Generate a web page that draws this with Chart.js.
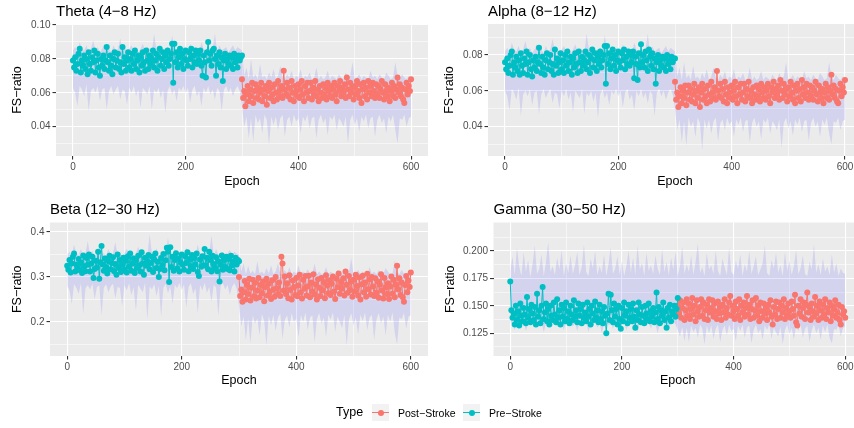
<!DOCTYPE html>
<html>
<head>
<meta charset="utf-8">
<title>FS-ratio per band</title>
<script src="https://cdn.jsdelivr.net/npm/chart.js@4.4.1/dist/chart.umd.min.js"></script>
<style>
    html, body { margin: 0; padding: 0; background: #fff; }
    body { width: 854px; height: 428px; overflow: hidden; position: relative; font-family: 'Liberation Sans', Arial, sans-serif; }
    canvas { position: absolute; }
    .legend-txt { position: absolute; white-space: nowrap; color: #000; }
    .key { position: absolute; width: 17px; height: 17px; background: #F2F2F2; }
    .key .ln { position: absolute; left: 0; right: 0; top: 8px; height: 1px; }
    .key .pt { position: absolute; left: 5.5px; top: 5.5px; width: 6px; height: 6px; border-radius: 50%; }
</style>
</head>
<body>
<canvas id="theta" width="432" height="200" style="left:0; top:0;"></canvas>
<canvas id="alpha" width="436" height="200" style="left:430px; top:0;"></canvas>
<canvas id="beta" width="432" height="205" style="left:0; top:195px;"></canvas>
<canvas id="gamma" width="436" height="205" style="left:430px; top:195px;"></canvas>

<div class="legend-txt" style="left:336px; top:405px; font-size:12.5px; line-height:15px;">Type</div>
<div class="key" style="left:372px; top:404px;"><div class="ln" id="k1l"></div><div class="pt" id="k1p"></div></div>
<div class="legend-txt" style="left:398px; top:406.5px; font-size:10.5px; line-height:12px;">Post−Stroke</div>
<div class="key" style="left:463px; top:404px;"><div class="ln" id="k2l"></div><div class="pt" id="k2p"></div></div>
<div class="legend-txt" style="left:489px; top:406.5px; font-size:10.5px; line-height:12px;">Pre−Stroke</div>

<script>
const POST_COLOR = '#F8766D';
const PRE_COLOR = '#00BFC4';
const BAND_COLOR = 'rgba(0, 0, 255, 0.1)';

// series read every 2nd epoch, the ribbon every 4th
const EPOCH_STEP = 2;
const BAND_STEP = 4;
const PRE_START = 0;
const POST_START = 300;

const epochTicks = [0, 200, 400, 600];
const epochLabels = ['0', '200', '400', '600'];

// Theta (4-8 Hz)
const thetaTicks = [0.04, 0.06, 0.08, 0.10];
const thetaLabels = ['0.04', '0.06', '0.08', '0.10'];
const thetaPre = [
    .079, .075, .081, .073, .077, .083, .086, .072, .079, .076,
    .082, .074, .080, .071, .084, .077, .073, .081, .078, .085,
    .072, .079, .083, .075, .070, .080, .076, .082, .074, .079,
    .087, .078, .073, .082, .076, .071, .080, .084, .075, .079,
    .083, .074, .078, .072, .087, .077, .081, .073, .079, .084,
    .075, .080, .073, .083, .077, .085, .074, .079, .082, .072,
    .081, .076, .084, .078, .073, .085, .079, .074, .082, .077,
    .080, .085, .075, .079, .083, .073, .081, .086, .076, .080,
    .084, .074, .082, .078, .085, .076, .080, .083, .089, .066,
    .089, .078, .084, .075, .081, .086, .077, .083, .074, .080,
    .085, .079, .076, .084, .080, .086, .075, .082, .078, .085,
    .077, .083, .079, .085, .076, .070, .082, .078, .069, .084,
    .090, .079, .083, .076, .085, .086, .080, .070, .082, .077,
    .084, .075, .081, .067, .079, .083, .074, .080, .077, .082,
    .076, .081, .074, .083, .078, .080, .075, .082, .079, .081,
    .082
];
const thetaPost = [
    .068, .057, .061, .052, .059, .064, .055, .062, .058, .066,
    .054, .061, .065, .057, .063, .056, .060, .066, .055, .062,
    .058, .064, .053, .061, .066, .057, .063, .059, .055, .065,
    .060, .056, .067, .061, .058, .064, .057, .073, .062, .059,
    .066, .058, .063, .056, .067, .060, .055, .064, .061, .058,
    .065, .057, .062, .067, .059, .055, .064, .060, .066, .057,
    .061, .066, .056, .063, .059, .067, .058, .062, .055, .064,
    .060, .057, .065, .059, .063, .056, .066, .061, .058, .064,
    .057, .062, .066, .059, .055, .064, .061, .067, .058, .063,
    .060, .065, .057, .069, .062, .058, .066, .060, .063, .056,
    .064, .059, .067, .061, .057, .065, .054, .062, .066, .058,
    .063, .056, .067, .060, .064, .058, .066, .061, .057, .065,
    .059, .064, .057, .062, .067, .060, .056, .065, .061, .058,
    .063, .055, .061, .066, .058, .064, .057, .062, .069, .060,
    .065, .058, .063, .056, .054, .062, .066, .059, .064, .061,
    .068
];
const thetaLow = [
    .063, .060, .052, .064, .062, .058, .065, .049, .061, .063,
    .060, .064, .055, .062, .063, .050, .061, .064, .059, .062,
    .064, .056, .062, .061, .053, .063, .060, .064, .058, .062,
    .051, .063, .061, .059, .064, .050, .062, .060, .063, .057,
    .062, .048, .061, .064, .059, .062, .055, .063, .061, .064,
    .060, .063, .054, .062, .064, .058, .061, .052, .063, .060,
    .064, .059, .062, .056, .063, .061, .049, .062, .064, .060,
    .063, .058, .062, .064, .061, .052, .040, .046, .033, .045,
    .031, .047, .042, .045, .036, .047, .044, .029, .046, .041,
    .046, .038, .045, .047, .034, .044, .046, .040, .047, .043,
    .045, .036, .046, .043, .047, .039, .045, .046, .033, .044,
    .047, .042, .045, .035, .046, .044, .047, .038, .045, .043,
    .040, .046, .030, .044, .047, .041, .045, .037, .046, .043,
    .047, .039, .045, .046, .034, .044, .047, .042, .045, .036,
    .046, .043, .047, .038, .030, .045, .044, .047, .040, .045,
    .046
];
const thetaHigh = [
    .085, .087, .084, .090, .086, .085, .088, .084, .086, .091,
    .085, .087, .084, .086, .089, .085, .086, .084, .088, .085,
    .086, .092, .085, .087, .084, .086, .088, .085, .087, .084,
    .086, .089, .085, .087, .086, .084, .095, .086, .085, .088,
    .084, .086, .087, .085, .094, .086, .084, .088, .085, .087,
    .086, .084, .089, .085, .087, .086, .084, .090, .086, .085,
    .087, .085, .086, .095, .084, .088, .085, .086, .087, .084,
    .086, .088, .085, .087, .086, .085, .070, .075, .068, .080,
    .069, .071, .068, .077, .069, .070, .068, .072, .069, .074,
    .068, .070, .076, .069, .068, .071, .069, .073, .068, .070,
    .069, .074, .068, .070, .069, .072, .068, .069, .075, .068,
    .070, .068, .069, .073, .068, .070, .069, .068, .071, .069,
    .068, .072, .069, .070, .078, .068, .069, .071, .068, .070,
    .069, .068, .073, .069, .070, .068, .071, .069, .068, .072,
    .070, .068, .069, .078, .070, .068, .071, .069, .068, .070,
    .069
];

// Alpha (8-12 Hz)
const alphaTicks = [0.04, 0.06, 0.08];
const alphaLabels = ['0.04', '0.06', '0.08'];
const alphaPre = [
    .076, .072, .078, .070, .074, .080, .082, .069, .076, .073,
    .079, .071, .077, .069, .081, .074, .070, .078, .075, .082,
    .069, .076, .080, .072, .068, .077, .073, .079, .071, .076,
    .084, .075, .070, .079, .073, .069, .077, .081, .072, .076,
    .080, .071, .075, .069, .083, .074, .078, .070, .076, .081,
    .072, .077, .070, .080, .074, .082, .071, .076, .079, .069,
    .078, .073, .081, .075, .070, .082, .076, .071, .079, .074,
    .077, .082, .072, .076, .080, .070, .078, .083, .073, .077,
    .081, .071, .079, .075, .082, .073, .077, .080, .085, .064,
    .085, .075, .081, .072, .078, .083, .074, .080, .071, .077,
    .082, .076, .073, .081, .077, .083, .072, .079, .075, .082,
    .074, .080, .076, .082, .067, .079, .075, .066, .081, .073,
    .086, .076, .080, .073, .082, .077, .071, .083, .079, .074,
    .081, .072, .078, .064, .076, .080, .071, .077, .074, .079,
    .073, .078, .071, .080, .075, .077, .072, .079, .076, .078,
    .078
];
const alphaPost = [
    .065, .055, .059, .051, .057, .062, .053, .060, .056, .063,
    .052, .059, .063, .055, .061, .054, .058, .064, .053, .060,
    .056, .062, .051, .059, .064, .055, .061, .057, .053, .063,
    .058, .054, .065, .059, .056, .062, .055, .071, .060, .057,
    .064, .056, .061, .054, .065, .058, .053, .062, .059, .056,
    .063, .055, .060, .065, .057, .053, .062, .058, .064, .055,
    .059, .064, .054, .061, .057, .065, .056, .060, .053, .062,
    .058, .055, .063, .057, .061, .054, .064, .059, .056, .062,
    .055, .060, .064, .057, .053, .062, .059, .065, .056, .061,
    .058, .063, .055, .066, .060, .056, .064, .058, .061, .054,
    .062, .057, .065, .059, .055, .063, .053, .060, .064, .056,
    .061, .054, .066, .058, .062, .056, .064, .059, .055, .063,
    .057, .062, .055, .060, .065, .058, .054, .063, .059, .056,
    .061, .053, .059, .064, .056, .062, .055, .060, .069, .058,
    .063, .056, .061, .054, .053, .060, .064, .057, .062, .059,
    .066
];
const alphaLow = [
    .060, .057, .049, .061, .059, .055, .062, .046, .058, .060,
    .057, .061, .052, .059, .060, .047, .058, .061, .056, .059,
    .061, .053, .059, .058, .050, .060, .057, .061, .055, .059,
    .048, .060, .058, .056, .061, .047, .059, .057, .060, .054,
    .059, .045, .058, .061, .056, .059, .052, .060, .058, .061,
    .057, .060, .051, .059, .061, .055, .058, .049, .060, .057,
    .061, .056, .059, .053, .060, .058, .046, .059, .061, .057,
    .060, .055, .059, .061, .058, .050, .038, .044, .031, .043,
    .029, .045, .040, .043, .034, .045, .042, .027, .044, .039,
    .044, .036, .043, .045, .032, .042, .044, .038, .045, .041,
    .043, .034, .044, .041, .045, .037, .043, .044, .031, .042,
    .045, .040, .043, .033, .044, .042, .045, .036, .043, .041,
    .038, .044, .028, .042, .045, .039, .043, .035, .044, .041,
    .045, .037, .043, .044, .032, .042, .045, .040, .043, .034,
    .044, .041, .045, .036, .030, .043, .042, .045, .038, .043,
    .044
];
const alphaHigh = [
    .082, .084, .081, .087, .083, .082, .085, .081, .083, .088,
    .082, .084, .081, .083, .086, .082, .083, .081, .085, .082,
    .083, .089, .082, .084, .081, .083, .085, .082, .084, .081,
    .083, .086, .082, .084, .083, .081, .092, .083, .082, .085,
    .081, .083, .084, .082, .091, .083, .081, .085, .082, .084,
    .083, .081, .086, .082, .084, .083, .081, .087, .083, .082,
    .084, .082, .083, .092, .081, .085, .082, .083, .084, .081,
    .083, .085, .082, .084, .083, .082, .068, .073, .066, .076,
    .067, .069, .066, .074, .067, .068, .066, .070, .067, .072,
    .066, .068, .073, .067, .066, .069, .067, .071, .066, .068,
    .067, .072, .066, .068, .067, .070, .066, .067, .073, .066,
    .068, .066, .067, .071, .066, .068, .067, .066, .069, .067,
    .066, .070, .067, .068, .076, .066, .067, .069, .066, .068,
    .067, .066, .071, .067, .068, .066, .069, .067, .066, .070,
    .068, .066, .067, .076, .068, .066, .069, .067, .066, .068,
    .067
];

// Beta (12-30 Hz)
const betaTicks = [0.2, 0.3, 0.4];
const betaLabels = ['0.2', '0.3', '0.4'];
const betaPre = [
    .325, .316, .338, .310, .330, .345, .352, .312, .328, .320,
    .340, .315, .332, .309, .348, .324, .313, .342, .327, .350,
    .312, .330, .345, .298, .318, .336, .321, .356, .296, .333,
    .369, .328, .314, .341, .322, .308, .335, .347, .317, .331,
    .344, .313, .329, .305, .350, .320, .338, .311, .327, .343,
    .316, .336, .310, .346, .323, .352, .314, .330, .341, .309,
    .338, .320, .347, .326, .312, .355, .330, .305, .343, .325,
    .335, .349, .317, .331, .345, .311, .339, .352, .320, .334,
    .300, .318, .342, .326, .351, .315, .337, .365, .356, .289,
    .366, .322, .345, .314, .338, .353, .319, .341, .312, .333,
    .350, .327, .316, .346, .331, .355, .313, .340, .324, .349,
    .318, .342, .328, .352, .311, .302, .339, .323, .346, .326,
    .362, .325, .343, .317, .356, .338, .312, .347, .329, .320,
    .344, .313, .335, .290, .327, .348, .316, .338, .322, .345,
    .318, .340, .315, .347, .326, .334, .312, .343, .328, .338,
    .335
];
const betaPost = [
    .300, .258, .272, .245, .266, .291, .250, .283, .262, .296,
    .248, .276, .294, .257, .287, .252, .270, .298, .255, .282,
    .264, .290, .246, .278, .296, .259, .285, .268, .251, .293,
    .272, .256, .300, .275, .262, .288, .258, .345, .330, .270,
    .301, .262, .286, .253, .304, .271, .250, .292, .278, .260,
    .298, .257, .281, .305, .266, .252, .294, .274, .302, .259,
    .279, .303, .255, .288, .268, .306, .261, .284, .250, .295,
    .276, .258, .298, .270, .289, .253, .304, .281, .264, .293,
    .260, .285, .301, .268, .251, .296, .277, .308, .263, .289,
    .274, .297, .259, .312, .283, .265, .302, .271, .290, .256,
    .294, .268, .305, .280, .259, .299, .250, .284, .303, .266,
    .288, .256, .307, .273, .295, .261, .300, .279, .258, .297,
    .265, .290, .254, .283, .306, .270, .252, .298, .277, .262,
    .286, .251, .279, .301, .263, .294, .255, .283, .325, .272,
    .297, .260, .288, .255, .245, .282, .302, .266, .292, .278,
    .310
];
const betaLow = [
    .280, .270, .240, .284, .276, .262, .286, .218, .275, .282,
    .272, .285, .250, .278, .281, .215, .276, .284, .266, .279,
    .285, .252, .278, .276, .235, .282, .270, .286, .260, .277,
    .225, .283, .274, .266, .287, .205, .279, .272, .284, .258,
    .280, .212, .276, .285, .264, .279, .240, .283, .275, .287,
    .271, .284, .232, .278, .286, .262, .275, .220, .282, .270,
    .287, .265, .278, .245, .283, .276, .214, .280, .286, .272,
    .283, .260, .279, .286, .274, .235, .190, .212, .160, .208,
    .152, .215, .196, .208, .170, .218, .202, .148, .214, .192,
    .216, .180, .210, .219, .162, .205, .215, .188, .220, .200,
    .208, .165, .216, .200, .221, .182, .210, .215, .155, .206,
    .220, .196, .210, .166, .216, .205, .221, .178, .212, .200,
    .186, .216, .148, .205, .220, .192, .210, .172, .216, .202,
    .221, .182, .210, .216, .160, .205, .220, .196, .212, .170,
    .216, .200, .221, .176, .150, .210, .206, .220, .185, .212,
    .215
];
const betaHigh = [
    .350, .356, .348, .372, .352, .350, .362, .347, .353, .380,
    .349, .358, .347, .352, .366, .349, .353, .348, .362, .350,
    .352, .378, .349, .356, .347, .352, .363, .350, .357, .348,
    .352, .368, .349, .357, .352, .347, .395, .352, .350, .364,
    .347, .353, .357, .350, .388, .352, .347, .362, .350, .356,
    .352, .347, .366, .350, .357, .352, .347, .372, .353, .350,
    .356, .350, .353, .392, .347, .362, .350, .353, .356, .348,
    .353, .360, .350, .356, .352, .350, .312, .330, .306, .325,
    .308, .314, .306, .335, .308, .312, .306, .320, .308, .326,
    .306, .312, .330, .308, .306, .316, .308, .322, .306, .312,
    .308, .326, .306, .312, .308, .318, .306, .308, .330, .306,
    .312, .306, .308, .322, .306, .312, .308, .306, .316, .308,
    .306, .318, .308, .312, .342, .306, .308, .316, .306, .312,
    .308, .306, .322, .308, .312, .306, .316, .308, .306, .320,
    .312, .306, .308, .338, .312, .306, .316, .308, .306, .312,
    .308
];

// Gamma (30-50 Hz)
const gammaTicks = [0.125, 0.150, 0.175, 0.200];
const gammaLabels = ['0.125', '0.150', '0.175', '0.200'];
const gammaPre = [
    .172, .146, .139, .143, .133, .150, .137, .145, .132, .152,
    .141, .136, .148, .142, .134, .158, .139, .147, .135, .151,
    .143, .137, .149, .133, .161, .140, .146, .134, .150, .167,
    .138, .144, .152, .136, .147, .133, .150, .141, .137, .153,
    .142, .135, .156, .139, .146, .133, .151, .140, .148, .136,
    .153, .138, .145, .134, .150, .142, .137, .155, .140, .146,
    .135, .152, .141, .147, .134, .151, .139, .144, .136, .153,
    .140, .147, .133, .150, .143, .137, .154, .139, .146, .135,
    .151, .138, .145, .134, .149, .141, .125, .143, .161, .137,
    .160, .146, .135, .152, .140, .147, .133, .150, .138, .129,
    .148, .136, .153, .141, .145, .134, .151, .139, .147, .136,
    .152, .140, .130, .146, .137, .153, .142, .135, .149, .141,
    .134, .150, .143, .138, .152, .136, .145, .140, .148, .135,
    .144, .162, .138, .149, .134, .146, .141, .153, .137, .145,
    .130, .148, .139, .151, .136, .145, .142, .150, .140, .147,
    .157
];
const gammaPost = [
    .150, .143, .155, .139, .148, .153, .137, .146, .156, .141,
    .152, .138, .147, .157, .142, .150, .136, .155, .145, .140,
    .149, .156, .141, .153, .138, .146, .151, .137, .156, .144,
    .148, .155, .140, .152, .145, .138, .154, .143, .149, .137,
    .151, .144, .156, .139, .148, .142, .153, .159, .141, .150,
    .145, .138, .154, .147, .141, .156, .137, .150, .144, .153,
    .140, .148, .159, .142, .151, .138, .147, .155, .139, .146,
    .157, .141, .150, .136, .153, .145, .139, .152, .143, .148,
    .137, .151, .144, .155, .140, .133, .149, .142, .154, .138,
    .147, .153, .139, .150, .144, .156, .138, .148, .141, .152,
    .145, .139, .154, .147, .141, .160, .135, .132, .150, .143,
    .156, .140, .148, .153, .138, .151, .162, .144, .149, .137,
    .152, .145, .140, .158, .143, .150, .137, .154, .146, .139,
    .151, .142, .156, .138, .148, .144, .153, .136, .150, .141,
    .147, .155, .139, .144, .151, .137, .133, .149, .142, .145,
    .139
];
const gammaLow = [
    .135, .133, .128, .136, .134, .131, .136, .127, .134, .135,
    .133, .136, .130, .134, .135, .126, .134, .136, .132, .135,
    .136, .131, .134, .133, .128, .135, .133, .136, .131, .134,
    .127, .135, .134, .132, .136, .126, .134, .133, .135, .130,
    .134, .125, .133, .136, .132, .134, .129, .135, .133, .136,
    .133, .135, .128, .134, .136, .131, .133, .126, .135, .133,
    .136, .132, .134, .129, .135, .133, .125, .134, .136, .132,
    .135, .130, .134, .136, .133, .128, .122, .131, .118, .130,
    .117, .132, .126, .130, .121, .133, .129, .115, .132, .125,
    .132, .120, .129, .133, .117, .128, .132, .123, .133, .127,
    .129, .118, .132, .127, .133, .121, .130, .132, .116, .128,
    .133, .125, .129, .119, .132, .128, .133, .120, .130, .126,
    .122, .131, .115, .128, .133, .124, .130, .119, .132, .127,
    .133, .121, .129, .132, .117, .128, .133, .125, .130, .119,
    .132, .126, .133, .121, .116, .129, .128, .133, .122, .130,
    .131
];
const gammaHigh = [
    .182, .195, .178, .203, .186, .177, .199, .181, .192, .176,
    .188, .205, .179, .184, .197, .177, .190, .208, .181, .186,
    .178, .194, .183, .201, .177, .189, .180, .196, .179, .187,
    .199, .178, .185, .206, .181, .177, .193, .184, .200, .178,
    .186, .180, .197, .177, .188, .203, .179, .184, .195, .178,
    .191, .177, .186, .200, .180, .194, .178, .205, .183, .189,
    .177, .198, .182, .187, .179, .196, .184, .178, .202, .181,
    .190, .178, .194, .183, .199, .177, .186, .204, .179, .188,
    .181, .196, .178, .190, .207, .180, .185, .177, .198, .183,
    .187, .179, .200, .182, .177, .193, .185, .178, .203, .181,
    .178, .191, .184, .197, .177, .188, .181, .200, .179, .186,
    .195, .178, .183, .189, .205, .180, .177, .192, .184, .198,
    .180, .187, .177, .199, .182, .191, .178, .186, .201, .179,
    .184, .196, .179, .177, .190, .183, .206, .180, .188, .178,
    .193, .181, .186, .178, .197, .180, .189, .177, .184, .180,
    .179
];

Chart.defaults.font.family = "'Liberation Sans', Arial, sans-serif";

function toPoints(values, start, step) {
    return values.map((v, i) => ({ x: start + i * step, y: v }));
}

// major ticks plus the half-way minor gridlines ggplot draws
function withMinor(major, labels, min, max) {
    const half = (major[1] - major[0]) / 2;
    const out = [];
    if (major[0] - half > min) out.push({ value: major[0] - half, minor: true, text: '' });
    major.forEach((v, i) => {
        out.push({ value: v, minor: false, text: labels[i] });
        if (v + half < max) out.push({ value: v + half, minor: true, text: '' });
    });
    return out;
}

const panelBg = {
    id: 'panelBg',
    beforeDraw(chart, args, opts) {
        const { ctx, chartArea: a } = chart;
        ctx.save();
        ctx.fillStyle = '#EBEBEB';
        ctx.fillRect(a.left, a.top, a.right - a.left, a.bottom - a.top);
        ctx.fillStyle = '#000';
        ctx.font = "15px 'Liberation Sans', Arial, sans-serif";
        ctx.textBaseline = 'alphabetic';
        ctx.fillText(opts.text, a.left, a.top - 8.5);
        ctx.restore();
    }
};

function makePanel(id, p) {
    const xTickList = withMinor(epochTicks, epochLabels, -30, 630);
    const yTickList = withMinor(p.yTicks, p.yLabels, p.yMin, p.yMax);
    const grid = {
        color: '#FFFFFF',
        lineWidth: c => (c.tick && c.tick.minor ? 0.55 : 1.1),
        tickColor: c => (c.tick && c.tick.minor ? 'rgba(0,0,0,0)' : '#333333'),
        tickWidth: 1.1,
        tickLength: 3.5
    };
    const tickFont = { size: 10 };
    const titleFont = { size: 12.5 };

    new Chart(document.getElementById(id), {
        type: 'line',
        data: {
            datasets: [
                { data: toPoints(p.low, PRE_START, BAND_STEP), borderColor: 'rgba(0,0,0,0)', borderWidth: 0, pointRadius: 0, fill: false, order: 3 },
                { data: toPoints(p.high, PRE_START, BAND_STEP), borderColor: 'rgba(0,0,0,0)', borderWidth: 0, pointRadius: 0, fill: '-1', backgroundColor: BAND_COLOR, order: 3 },
                { label: 'Post−Stroke', data: toPoints(p.post, POST_START, EPOCH_STEP), borderColor: POST_COLOR, backgroundColor: POST_COLOR, borderWidth: 1, pointRadius: 3, pointBorderWidth: 0, order: 2 },
                { label: 'Pre−Stroke', data: toPoints(p.pre, PRE_START, EPOCH_STEP), borderColor: PRE_COLOR, backgroundColor: PRE_COLOR, borderWidth: 1, pointRadius: 3, pointBorderWidth: 0, order: 1 }
            ]
        },
        options: {
            responsive: false,
            animation: false,
            events: [],
            layout: { padding: { top: p.padTop, right: p.padRight, bottom: 0, left: 0 } },
            plugins: {
                legend: { display: false },
                tooltip: { enabled: false },
                panelBg: { text: p.title }
            },
            scales: {
                x: {
                    type: 'linear',
                    min: -30,
                    max: 630,
                    grid: grid,
                    border: { display: false },
                    afterBuildTicks: axis => { axis.ticks = xTickList.map(t => Object.assign({}, t)); },
                    afterFit: axis => { axis.height = p.xHeight; },
                    ticks: { autoSkip: false, maxRotation: 0, padding: 2, color: '#4D4D4D', font: tickFont, callback: (v, i, t) => t[i].text },
                    title: { display: true, text: 'Epoch', color: '#000', font: titleFont, padding: { top: 0, bottom: p.xTitlePad } }
                },
                y: {
                    type: 'linear',
                    min: p.yMin,
                    max: p.yMax,
                    grid: grid,
                    border: { display: false },
                    afterBuildTicks: axis => { axis.ticks = yTickList.map(t => Object.assign({}, t)); },
                    afterFit: axis => { axis.width = p.yWidth; },
                    ticks: { autoSkip: false, padding: 2, color: '#4D4D4D', font: tickFont, callback: (v, i, t) => t[i].text },
                    title: { display: true, text: 'FS−ratio', color: '#000', font: titleFont, padding: { top: p.yTitlePad, bottom: 0 } }
                }
            }
        },
        plugins: [panelBg]
    });
}

makePanel('theta', {
    title: 'Theta (4−8 Hz)', pre: thetaPre, post: thetaPost, low: thetaLow, high: thetaHigh,
    yTicks: thetaTicks, yLabels: thetaLabels, yMin: 0.0227, yMax: 0.1006,
    yWidth: 56, xHeight: 44, padTop: 24, padRight: 0, yTitlePad: 10.5, xTitlePad: 10.5
});
makePanel('alpha', {
    title: 'Alpha (8−12 Hz)', pre: alphaPre, post: alphaPost, low: alphaLow, high: alphaHigh,
    yTicks: alphaTicks, yLabels: alphaLabels, yMin: 0.0236, yMax: 0.0973,
    yWidth: 58, xHeight: 44, padTop: 24, padRight: 2, yTitlePad: 12.5, xTitlePad: 10.5
});
makePanel('beta', {
    title: 'Beta (12−30 Hz)', pre: betaPre, post: betaPost, low: betaLow, high: betaHigh,
    yTicks: betaTicks, yLabels: betaLabels, yMin: 0.1244, yMax: 0.4211,
    yWidth: 50, xHeight: 44, padTop: 27.5, padRight: 0, yTitlePad: 10.5, xTitlePad: 12
});
makePanel('gamma', {
    title: 'Gamma (30−50 Hz)', pre: gammaPre, post: gammaPost, low: gammaLow, high: gammaHigh,
    yTicks: gammaTicks, yLabels: gammaLabels, yMin: 0.1043, yMax: 0.2258,
    yWidth: 63.5, xHeight: 44, padTop: 27.5, padRight: 1, yTitlePad: 13.5, xTitlePad: 12
});

['k1l', 'k1p'].forEach(id => { document.getElementById(id).style.background = POST_COLOR; });
['k2l', 'k2p'].forEach(id => { document.getElementById(id).style.background = PRE_COLOR; });
</script>
</body>
</html>
